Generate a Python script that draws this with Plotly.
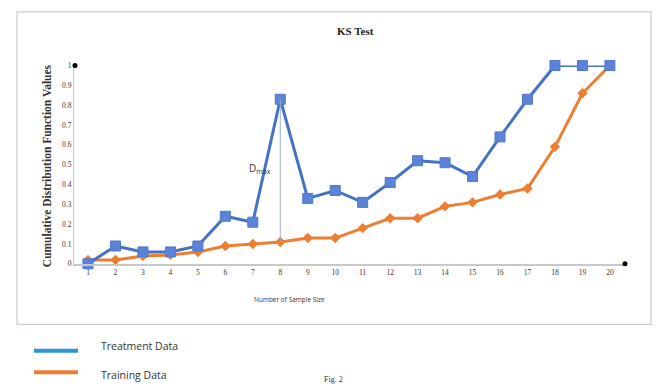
import plotly.graph_objects as go

sample_size = list(range(1, 21))
treatment = [0.0, 0.09, 0.06, 0.06, 0.09, 0.24, 0.21, 0.83, 0.33, 0.37,
             0.31, 0.41, 0.52, 0.51, 0.44, 0.64, 0.83, 1.0, 1.0, 1.0]
training = [0.02, 0.02, 0.04, 0.045, 0.06, 0.09, 0.10, 0.11, 0.13, 0.13,
            0.18, 0.23, 0.23, 0.29, 0.31, 0.35, 0.38, 0.59, 0.86, 1.0]
y_ticks = [0, 0.1, 0.2, 0.3, 0.4, 0.5, 0.6, 0.7, 0.8, 0.9, 1]
y_tick_labels = ["0", "0.1", "0.2", "0.3", "0.4", "0.5", "0.6", "0.7", "0.8", "0.9", "1"]
dmax_x = 8

W, H = 661, 389
def px(x): return x / W
def py(y): return 1 - y / H

fig = go.Figure()
fig.add_trace(go.Scatter(x=sample_size, y=training, mode="lines+markers",
                         name="Training Data", cliponaxis=False,
                         line=dict(color="#ed7d31", width=3),
                         marker=dict(symbol="diamond", size=8, color="#ed7d31")))
fig.add_trace(go.Scatter(x=sample_size, y=treatment, mode="lines+markers",
                         name="Treatment Data", cliponaxis=False,
                         line=dict(color="#4472c4", width=3),
                         marker=dict(symbol="square", size=10, color="#5b84d8",
                                     line=dict(color="#4f78cc", width=1))))

serif = "Liberation Serif, Times New Roman, serif"
sans = "Open Sans, Liberation Sans, sans-serif"

fig.update_layout(
    width=W, height=H, margin=dict(l=0, r=0, t=0, b=0),
    paper_bgcolor="white", plot_bgcolor="white", showlegend=False,
    xaxis=dict(domain=[px(74), px(625)], range=[0.49, 20.55],
               tickmode="array", tickvals=sample_size,
               ticktext=[str(v) for v in sample_size],
               showgrid=False, zeroline=False, showline=True,
               linecolor="#c8c8c8", linewidth=1.5, ticks="",
               tickfont=dict(family=serif, size=7.5, color="#333")),
    yaxis=dict(domain=[py(266), py(63)], range=[0, 1],
               tickmode="array", tickvals=y_ticks, ticktext=y_tick_labels,
               showgrid=False, zeroline=False, showline=True,
               linecolor="#c8c8c8", linewidth=1.2, ticks="",
               tickfont=dict(family=serif, size=7.5, color="#333")),
)

shapes = [
    dict(type="rect", xref="paper", yref="paper", x0=px(17), x1=px(651),
         y0=py(328), y1=py(8), line=dict(color="#c5ccd4", width=1.2)),
    dict(type="line", xref="x", yref="y", x0=dmax_x, x1=dmax_x,
         y0=training[dmax_x - 1], y1=treatment[dmax_x - 1],
         line=dict(color="#9bb0c8", width=1)),
    dict(type="circle", xref="paper", yref="paper", xsizemode="pixel", ysizemode="pixel",
         xanchor=px(75), yanchor=py(63), x0=-2.5, x1=2.5, y0=-2.5, y1=2.5,
         fillcolor="black", line=dict(color="black", width=0)),
    dict(type="circle", xref="paper", yref="paper", xsizemode="pixel", ysizemode="pixel",
         xanchor=px(625), yanchor=py(266), x0=-2.5, x1=2.5, y0=-2.5, y1=2.5,
         fillcolor="black", line=dict(color="black", width=0)),
    dict(type="line", xref="paper", yref="paper", x0=px(34), x1=px(78),
         y0=py(355), y1=py(355), line=dict(color="#2e96d4", width=4)),
    dict(type="line", xref="paper", yref="paper", x0=px(34), x1=px(78),
         y0=py(377), y1=py(377), line=dict(color="#ed7d31", width=4)),
]
fig.update_layout(shapes=shapes)

annotations = [
    dict(text="<b>KS Test</b>", x=px(355), y=py(28), xref="paper", yref="paper",
         yanchor="middle", showarrow=False, font=dict(family=serif, size=11, color="#222")),
    dict(text="<b>Cumulative Distribution Function Values</b>", x=px(47), y=py(166),
         xref="paper", yref="paper", xanchor="center", yanchor="middle",
         showarrow=False, textangle=-90,
         font=dict(family=serif, size=11.5, color="#333")),
    dict(text="Number of Sample Size", x=px(289), y=py(303), xref="paper", yref="paper",
         yanchor="middle", showarrow=False, font=dict(family=sans, size=6.5, color="#333")),
    dict(text="D<sub>max</sub>", x=7.75, y=0.48, xref="x", yref="y", xanchor="right",
         yanchor="middle", showarrow=False, font=dict(family=sans, size=10, color="#333")),
    dict(text="Treatment Data", x=px(99), y=py(350), xref="paper", yref="paper",
         xanchor="left", yanchor="middle", showarrow=False,
         font=dict(family=sans, size=10.5, color="#333")),
    dict(text="Training Data", x=px(99), y=py(380), xref="paper", yref="paper",
         xanchor="left", yanchor="middle", showarrow=False,
         font=dict(family=sans, size=10.5, color="#333")),
    dict(text="Fig. 2", x=px(333), y=py(384), xref="paper", yref="paper",
         yanchor="middle", showarrow=False, font=dict(family=serif, size=8, color="#333")),
]
fig.update_layout(annotations=annotations)

fig.write_html("out.html", config={"displayModeBar": False},
               post_script="document.body.style.margin='0';document.body.style.overflow='hidden';")
